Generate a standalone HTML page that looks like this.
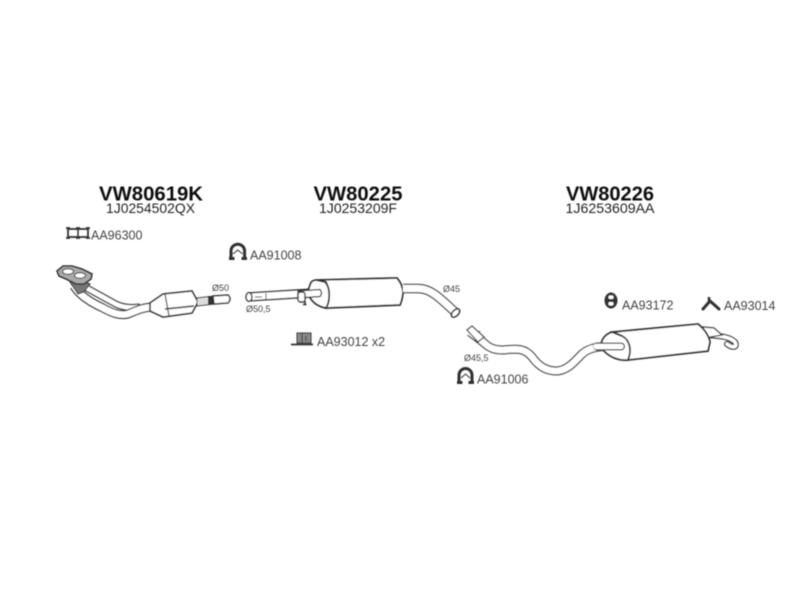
<!DOCTYPE html>
<html><head><meta charset="utf-8"><style>
html,body{margin:0;padding:0;background:#fff}
svg{display:block}
text{font-family:"Liberation Sans",sans-serif}
</style></head><body>
<svg width="800" height="600" viewBox="0 0 800 600" xmlns="http://www.w3.org/2000/svg">
<rect width="800" height="600" fill="#fff"/>
<defs><filter id="b" x="-5%" y="-5%" width="110%" height="110%"><feGaussianBlur stdDeviation="0.5"/></filter></defs>
<g filter="url(#b)">
<g fill="#111" font-weight="bold" font-size="20" text-anchor="middle">
<text x="151" y="200.500" textLength="104" lengthAdjust="spacingAndGlyphs">VW80619K</text>
<text x="358" y="200.500" textLength="89" lengthAdjust="spacingAndGlyphs">VW80225</text>
<text x="610" y="200.500" textLength="88" lengthAdjust="spacingAndGlyphs">VW80226</text>
</g>
<g fill="#222" font-size="14" text-anchor="middle">
<text x="150.500" y="213" textLength="89" lengthAdjust="spacingAndGlyphs">1J0254502QX</text>
<text x="358" y="213" textLength="78" lengthAdjust="spacingAndGlyphs">1J0253209F</text>
<text x="610" y="213" textLength="89" lengthAdjust="spacingAndGlyphs">1J6253609AA</text>
</g>
<g fill="#444" font-size="12.500">
<text x="91" y="239.500">AA96300</text>
<text x="250" y="259.500">AA91008</text>
<text x="317" y="346">AA93012 x2</text>
<text x="622" y="309.500">AA93172</text>
<text x="724" y="310">AA93014</text>
<text x="477" y="383.500">AA91006</text>
</g>
<g fill="#444" font-size="9">
<text x="212" y="291">Ø50</text>
<text x="246" y="312">Ø50,5</text>
<text x="443" y="292">Ø45</text>
<text x="464" y="361">Ø45,5</text>
</g>

<!-- flange AA96300 -->
<g fill="none" stroke="#333" stroke-width="1.800">
<rect x="68" y="229" width="20" height="8"/>
<path d="M78 229v8" stroke-width="1.500"/>
<path d="M66 228h4M76 228h4M86 228h4M66 238h4M76 238h4M86 238h4"/>
</g>

<!-- clamp AA91008 -->
<g fill="none" stroke="#333">
<path d="M231 258v-7a6.800 6.800 0 0 1 13.600 0v7" stroke-width="3"/>
<path d="M229 258.500h5.500M241.500 258.500h5.500" stroke-width="3"/>
<path d="M233 254L237.800 250L242.500 254" stroke-width="1"/>
</g>
<!-- clamp AA91006 -->
<g fill="none" stroke="#333">
<path d="M459 382v-7a6.500 6.500 0 0 1 13 0v7" stroke-width="3"/>
<path d="M457 382.500h5.500M468.500 382.500h5.500" stroke-width="3"/>
<path d="M461 378L465.500 374L470 378" stroke-width="1"/>
</g>

<!-- Front pipe + cat -->
<g fill="none" stroke-linejoin="round">
<path d="M83 286L112 302C122 308 130 308 140 307" stroke="#333" stroke-width="7"/>
<path d="M83 286L112 302C122 308 130 308 140 307" stroke="#fff" stroke-width="4.500"/>
<path d="M74 286C80 296 92 303 103 308C112 313 120 316 128 314C136 311 142 307 155 307" stroke="#333" stroke-width="9"/>
<path d="M74 286C80 296 92 303 103 308C112 313 120 316 128 314C136 311 142 307 155 307" stroke="#fff" stroke-width="6.500"/>
</g>
<path d="M70 282L78 294L84 292L90 284L80 280Z" fill="#777" stroke="#333"/>
<path d="M57 271L63 266L72 266L82 269L92 274L91 279L84 284L76 284L66 279L59 276Z" fill="#aaa" stroke="#333" stroke-width="1.600"/>
<ellipse cx="68" cy="271.500" rx="5.500" ry="2.800" fill="#fff" stroke="#333"/>
<ellipse cx="80" cy="275.500" rx="5.500" ry="2.800" fill="#fff" stroke="#333"/>
<path d="M150 303L163 294L192 291L198 302L192 313L163 317L150 311Z" fill="#fff" stroke="#333" stroke-width="1.600"/>
<path d="M165 294L169 316" stroke="#444" stroke-width="1.200"/>
<path d="M165 309L194 306" stroke="#555" stroke-width="1.800"/>
<path d="M197 298L214 296L214 304L197 306Z" fill="#ddd" stroke="#333"/>
<rect x="208" y="296" width="5.500" height="8" fill="#333"/>
<path d="M213 296L228 295Q232 299 228 303L214 304Z" fill="#fff" stroke="#333" stroke-width="1.400"/>

<!-- Intermediate silencer -->
<path d="M248 293L312 289L312 297L248 301Z" fill="#fff" stroke="#333" stroke-width="1.400"/>
<ellipse cx="249" cy="297" rx="3" ry="4.300" fill="#fff" stroke="#333" stroke-width="1.400"/>
<path d="M255 297h7M266 293v7.500" stroke="#333"/>
<path d="M317 280L397 278Q403 285 403 293Q402 301 400 305L326 308Q332 295 326 282Z" fill="#fff" stroke="#333" stroke-width="1.800"/>
<path d="M316 280C310 281 311 283 309 288C306 296 314 306 326 308C330 302 331 288 325 282Z" fill="#fff" stroke="#333" stroke-width="1.800"/>
<path d="M298 291L320 289.500Q323 293 320 296.500L298 298Z" fill="#fff" stroke="#333" stroke-width="1.300"/>
<rect x="298" y="292" width="7" height="10" rx="2.500" fill="#fff" stroke="#333" stroke-width="1.400"/>
<path d="M305 301v3.500M303 304.500h3.500" stroke="#333" stroke-width="1.500"/>
<g fill="none">
<path d="M403 288.500H418C430 288.500 438 296 456 313" stroke="#444" stroke-width="9.500"/>
<path d="M403 288.500H418C430 288.500 438 296 456 313" stroke="#fff" stroke-width="7"/>
</g>
<ellipse cx="455.500" cy="313" rx="5" ry="3" transform="rotate(-45 455.500 313)" fill="#fff" stroke="#333" stroke-width="1.600"/>

<!-- Bracket AA93012 -->
<path d="M291 344.500h22" stroke="#333" stroke-width="1.800"/>
<rect x="297" y="333" width="14" height="10" fill="#888" stroke="#333"/>
<path d="M302 333v10M306 336v5" stroke="#333"/>

<!-- Rear section -->
<g fill="none" stroke-linejoin="round">
<path d="M470 332L483 342C490 349 496 350 503 350C514 349 524 347 532 357C540 368 548 371 557 371C568 370 574 362 582 354C590 347 600 346 620 346" stroke="#444" stroke-width="9"/>
<path d="M470 332L483 342C490 349 496 350 503 350C514 349 524 347 532 357C540 368 548 371 557 371C568 370 574 362 582 354C590 347 600 346 620 346" stroke="#fff" stroke-width="6.500"/>
</g>
<path d="M474 336L480 331" stroke="#444" stroke-width="1"/>
<path d="M467 330L472 326L484 337L478 342Z" fill="#fff" stroke="#444" stroke-width="1.200"/>
<path d="M623 344.500Q618 346 620 350" fill="none" stroke="#333"/>
<g fill="none" stroke-linejoin="round" stroke-linecap="round">
<path d="M706 335C722 336 730 337 735 342C738 348 732 348 727 344" stroke="#333" stroke-width="6"/>
<path d="M706 335C722 336 730 337 735 342C738 348 732 348 727 344" stroke="#fff" stroke-width="3.500"/>
</g>
<path d="M703 327L714 328L722 335L705 338Z" fill="#fff" stroke="#333" stroke-width="1.200"/>
<path d="M613 332L698 324Q708 332 710 342L708 351L628 360Q632 345 622 336Z" fill="#fff" stroke="#333" stroke-width="1.800"/>
<path d="M612 332C603 335 598 344 604 351C611 358 620 361 628 360C632 350 630 340 622 336Z" fill="#fff" stroke="#333" stroke-width="1.800"/>
<path d="M597 346.500H621" stroke="#444" stroke-width="8" stroke-linecap="round"/>
<path d="M596 346.500H621" stroke="#fff" stroke-width="5.500" stroke-linecap="round"/>

<!-- Rubber AA93172 -->
<ellipse cx="611" cy="300.500" rx="6.500" ry="8" fill="#333"/>
<rect x="608.500" y="295.500" width="5" height="3.500" rx="1.500" fill="#fff"/>
<rect x="608.500" y="302" width="5" height="3.500" rx="1.500" fill="#fff"/>
<!-- hanger AA93014 -->
<path d="M703 309L710 301L719 309" fill="none" stroke="#333" stroke-width="3" stroke-linecap="round"/>
<path d="M709 297v5" stroke="#333" stroke-width="2.500"/>
</g>
</svg>
</body></html>
